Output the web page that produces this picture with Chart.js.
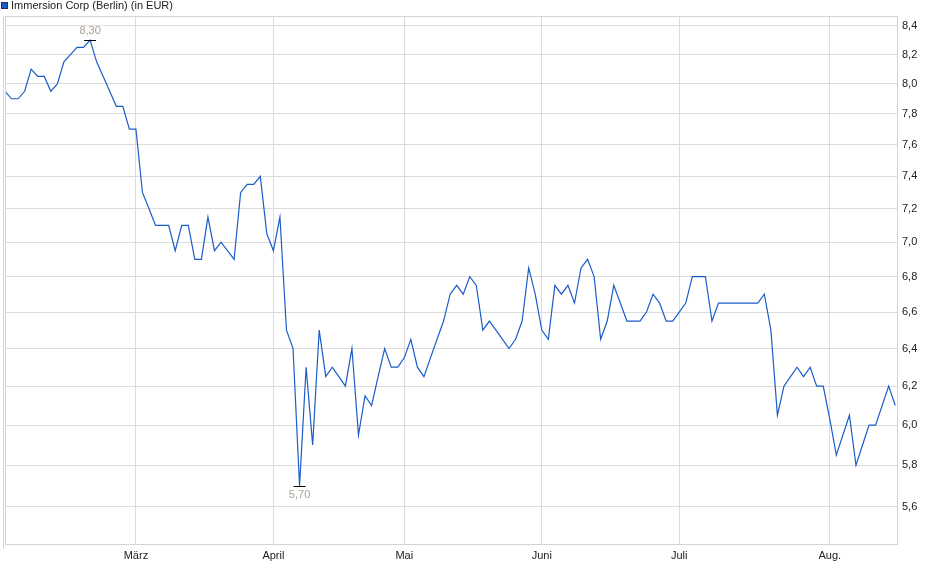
<!DOCTYPE html>
<html>
<head>
<meta charset="utf-8">
<script src="https://cdn.jsdelivr.net/npm/chart.js@4/dist/chart.umd.min.js"></script>
<style>
html,body{margin:0;padding:0;background:#fff;}
#wrap{position:relative;width:940px;height:579px;}
</style>
</head>
<body>
<div id="wrap"><canvas id="c" width="940" height="579"></canvas></div>
<script>
const seriesName = "Immersion Corp (Berlin) (in EUR)";
const prices = [
  7.95,7.9,7.9,7.95,8.1,8.05,8.05,7.95,8.0,8.15,
  8.2,8.25,8.25,8.3,8.15,8.05,7.95,7.85,7.85,7.7,
  7.7,7.3,7.2,7.1,7.1,7.1,6.95,7.1,7.1,6.9,
  6.9,7.15,6.95,7.0,6.95,6.9,7.3,7.35,7.35,7.4,
  7.05,6.95,7.15,6.5,6.4,5.7,6.3,5.9,6.5,6.25,
  6.3,6.25,6.2,6.4,5.95,6.15,6.1,6.25,6.4,6.3,
  6.3,6.35,6.45,6.3,6.25,6.35,6.45,6.55,6.7,6.75,
  6.7,6.8,6.75,6.5,6.55,6.5,6.45,6.4,6.45,6.55,
  6.85,6.7,6.5,6.45,6.75,6.7,6.75,6.65,6.85,6.9,
  6.8,6.45,6.55,6.75,6.65,6.55,6.55,6.55,6.6,6.7,
  6.65,6.55,6.55,6.6,6.65,6.8,6.8,6.8,6.55,6.65,
  6.65,6.65,6.65,6.65,6.65,6.65,6.7,6.5,6.05,6.2,
  6.25,6.3,6.25,6.3,6.2,6.2,6.03,5.85,5.95,6.05,
  5.8,5.9,6.0,6.0,6.1,6.2,6.1
];
const monthLabels = ["März","April","Mai","Juni","Juli","Aug."];
const monthStartIdx = [20, 41, 61, 82, 103, 126];
const yTicks = [5.6,5.8,6.0,6.2,6.4,6.6,6.8,7.0,7.2,7.4,7.6,7.8,8.0,8.2,8.4];

const points = prices.map((v,i)=>({x:i,y:v}));
const FONT = "'Liberation Sans', Arial, sans-serif";
const LINE = '#1c5cc8';

const fmt1 = v => v.toFixed(1).replace('.', ',');
const fmt2 = v => v.toFixed(2).replace('.', ',');

const extrasPlugin = {
  id:'extras',
  beforeDraw(chart){
    const ctx = chart.ctx;
    ctx.save();
    ctx.fillStyle = '#fff';
    ctx.fillRect(0,0,chart.width,chart.height);
    // legend
    ctx.fillStyle = LINE;
    ctx.fillRect(1,2,7,7);
    ctx.strokeStyle = '#1a3270';
    ctx.lineWidth = 1;
    ctx.strokeRect(1.5,2.5,6,6);
    ctx.fillStyle = '#222';
    ctx.font = '11px ' + FONT;
    ctx.textBaseline = 'middle';
    ctx.textAlign = 'left';
    ctx.fillText(seriesName, 11, 6);
    ctx.restore();
  },
  afterDraw(chart){
    const ctx = chart.ctx;
    const a = chart.chartArea;
    ctx.save();
    ctx.strokeStyle = '#d4d4d4';
    ctx.lineWidth = 1;
    ctx.strokeRect(Math.round(a.left)+0.5, Math.round(a.top)+0.5, Math.round(a.right-a.left)-1, Math.round(a.bottom-a.top)-1);
    ctx.beginPath();
    ctx.moveTo(3.5, a.top); ctx.lineTo(3.5, a.bottom+4);
    ctx.stroke();
    // min / max annotations
    const xs = chart.scales.x, ys = chart.scales.y;
    let maxI = 0, minI = 0;
    prices.forEach((v,i)=>{ if(v>prices[maxI]) maxI=i; if(v<prices[minI]) minI=i; });
    ctx.font = '11px ' + FONT;
    ctx.textAlign = 'center';
    [[maxI,-1],[minI,1]].forEach(([i,dir])=>{
      const px = xs.getPixelForValue(i), py = ys.getPixelForValue(prices[i]);
      ctx.strokeStyle = '#000';
      ctx.beginPath();
      ctx.moveTo(px-6, Math.round(py)+0.5); ctx.lineTo(px+6, Math.round(py)+0.5);
      ctx.stroke();
      ctx.fillStyle = '#a9a196';
      ctx.textBaseline = dir<0 ? 'bottom' : 'top';
      ctx.fillText(fmt2(prices[i]), px, py + dir*4);
    });
    ctx.restore();
  }
};

new Chart(document.getElementById('c'), {
  type:'line',
  data:{ datasets:[{
    label: seriesName,
    data: points,
    borderColor: LINE,
    borderWidth: 1.2,
    pointRadius: 0,
    tension: 0,
    fill: false
  }]},
  options:{
    responsive:false,
    devicePixelRatio:1,
    animation:false,
    layout:{ padding:{ left:5, top:16, right:0, bottom:0 } },
    plugins:{ legend:{display:false}, tooltip:{enabled:false} },
    scales:{
      x:{
        type:'linear',
        min:0, max:136.42,
        afterBuildTicks(s){ s.ticks = monthStartIdx.map(v=>({value:v})); },
        afterFit(s){ s.height = 34; },
        grid:{ color:'#dcdcdc', drawTicks:false, lineWidth:1 },
        border:{ display:false },
        ticks:{
          autoSkip:false, maxRotation:0, padding:4,
          color:'#222', font:{ size:11, family:FONT },
          callback(v){ const k = monthStartIdx.indexOf(v); return k>=0 ? monthLabels[k] : ''; }
        }
      },
      y:{
        type:'logarithmic',
        position:'right',
        min:5.423, max:8.471,
        afterBuildTicks(s){ s.ticks = yTicks.map(v=>({value:v})); },
        afterFit(s){ s.width = 42; },
        grid:{ color:'#dcdcdc', drawTicks:false, lineWidth:1 },
        border:{ display:false },
        ticks:{
          autoSkip:false, padding:4,
          color:'#222', font:{ size:11, family:FONT },
          callback(v){ return fmt1(v); }
        }
      }
    }
  },
  plugins:[extrasPlugin]
});
</script>
</body>
</html>
